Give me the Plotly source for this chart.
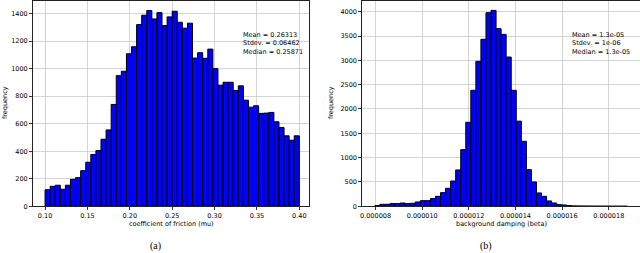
import plotly.graph_objects as go

# ---- data ----
mu_bin_start = 0.100
mu_bin_width = 0.006
mu_counts = [120, 145, 153, 124, 153, 196, 208, 259, 320, 376,
             405, 487, 555, 740, 949, 981, 1108, 1159, 1320, 1388,
             1422, 1361, 1407, 1313, 1376, 1417, 1337, 1294, 1330, 1077,
             1116, 1075, 1142, 1000, 880, 901, 901, 841, 875, 771,
             720, 730, 675, 677, 682, 614, 572, 512, 480, 512]
mu_stats = ["Mean = 0.26313", "Stdev. = 0.06462", "Median = 0.25871"]
mu_ticks = [0.10, 0.15, 0.20, 0.25, 0.30, 0.35, 0.40]
mu_tick_text = ["0.10", "0.15", "0.20", "0.25", "0.30", "0.35", "0.40"]
mu_yticks = [0, 200, 400, 600, 800, 1000, 1200, 1400]

beta_bin_start = 7.97e-6
beta_bin_width = 0.2166e-6
beta_counts = [14, 41, 41, 55, 55, 68, 55, 62, 89, 116,
               116, 158, 205, 281, 370, 520, 747, 1164, 1726, 2384,
               2979, 3432, 3979, 4027, 3651, 3534, 3068, 2384, 1750, 1336,
               753, 500, 274, 205, 110, 68, 34, 27, 14, 8,
               6, 5, 4, 3, 3, 2, 2, 1, 1, 2]
beta_stats = ["Mean = 1.3e-05", "Stdev. = 1e-06", "Median = 1.3e-05"]
beta_ticks = [8e-6, 10e-6, 12e-6, 14e-6, 16e-6, 18e-6]
beta_tick_text = ["0.000008", "0.000010", "0.000012", "0.000014", "0.000016", "0.000018"]
beta_yticks = [0, 500, 1000, 1500, 2000, 2500, 3000, 3500, 4000]

# ---- build figure ----
def centers(start, width, n):
    return [start + width * (i + 0.5) for i in range(n)]

fig = go.Figure()
fig.add_trace(go.Bar(
    x=centers(mu_bin_start, mu_bin_width, len(mu_counts)), y=mu_counts,
    width=mu_bin_width, marker=dict(color="#0000ff", line=dict(color="black", width=1)),
    xaxis="x", yaxis="y", showlegend=False, hoverinfo="skip"))
fig.add_trace(go.Bar(
    x=centers(beta_bin_start, beta_bin_width, len(beta_counts)), y=beta_counts,
    width=beta_bin_width, marker=dict(color="#0000ff", line=dict(color="black", width=1)),
    xaxis="x2", yaxis="y2", showlegend=False, hoverinfo="skip"))

tickfont = dict(family="DejaVu Sans", size=6.5, color="black")
axis_common = dict(showline=True, linecolor="#222", linewidth=1, mirror=True,
                   ticks="outside", ticklen=3, tickcolor="black", tickwidth=0.8,
                   showgrid=True, gridcolor="rgba(205,205,205,0.85)", gridwidth=1,
                   zeroline=False, tickfont=tickfont, layer="above traces")

fig.update_layout(
    width=640, height=253, margin=dict(l=0, r=0, t=0, b=0, autoexpand=False),
    paper_bgcolor="white", plot_bgcolor="white", bargap=0,
    xaxis=dict(domain=[0.0516, 0.4833], range=[0.0858, 0.4118],
               tickvals=mu_ticks, ticktext=mu_tick_text, anchor="y", **axis_common),
    yaxis=dict(domain=[0.1846, 0.998], range=[0, 1495], tickvals=mu_yticks,
               anchor="x", **axis_common),
    xaxis2=dict(domain=[0.566, 1.0], range=[7.43e-6, 19.34e-6],
                tickvals=beta_ticks, ticktext=beta_tick_text, anchor="y2", **axis_common),
    yaxis2=dict(domain=[0.1846, 0.998], range=[0, 4230], tickvals=beta_yticks,
                anchor="x2", **axis_common),
)

labfont = dict(family="DejaVu Sans", size=6.5, color="black")
capfont = dict(family="Liberation Serif, Times New Roman, serif", size=10, color="black")
annos = [
    dict(text="<br>".join(mu_stats), x=0.3315, y=1286, xref="x", yref="y",
         xanchor="left", yanchor="top", align="left", showarrow=False, font=labfont),
    dict(text="<br>".join(beta_stats), x=16.33e-6, y=3637, xref="x2", yref="y2",
         xanchor="left", yanchor="top", align="left", showarrow=False, font=labfont),
    dict(text="coefficient of friction (mu)", x=171 / 640, y=1 - 224 / 253, xref="paper",
         yref="paper", showarrow=False, font=labfont, xanchor="center", yanchor="middle"),
    dict(text="background damping (beta)", x=501 / 640, y=1 - 224 / 253, xref="paper",
         yref="paper", showarrow=False, font=labfont, xanchor="center", yanchor="middle"),
    dict(text="frequency", x=5 / 640, y=1 - 103 / 253, xref="paper", yref="paper",
         showarrow=False, font=labfont, textangle=-90, xanchor="center", yanchor="middle"),
    dict(text="frequency", x=331 / 640, y=1 - 103 / 253, xref="paper", yref="paper",
         showarrow=False, font=labfont, textangle=-90, xanchor="center", yanchor="middle"),
    dict(text="(a)", x=155 / 640, y=1 - 246 / 253, xref="paper", yref="paper",
         showarrow=False, font=capfont, xanchor="center", yanchor="middle"),
    dict(text="(b)", x=486 / 640, y=1 - 246 / 253, xref="paper", yref="paper",
         showarrow=False, font=capfont, xanchor="center", yanchor="middle"),
]
fig.update_layout(annotations=annos)

fig.write_html("out.html", config={"displayModeBar": False, "staticPlot": True},
               post_script="document.body.style.margin='0px';document.body.style.overflow='hidden';")
